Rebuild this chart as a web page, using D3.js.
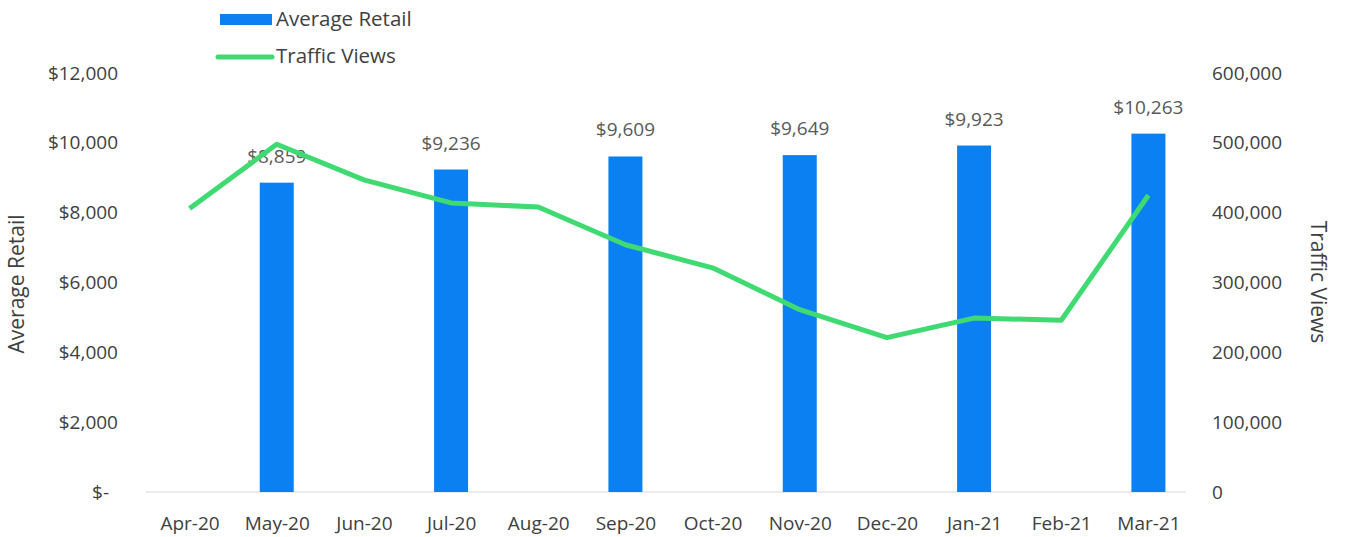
<!DOCTYPE html>
<html><head><meta charset="utf-8">
<script src="https://cdn.jsdelivr.net/npm/d3@7"></script>
<style>body{margin:0;background:#fff}svg{display:block}text{font-family:"Open Sans",Lato,sans-serif}</style>
</head><body>
<script>
const months = ["Apr-20","May-20","Jun-20","Jul-20","Aug-20","Sep-20","Oct-20","Nov-20","Dec-20","Jan-21","Feb-21","Mar-21"];
const retail = [null,8859,null,9236,null,9609,null,9649,null,9923,null,10263];
const traffic = [406000,498000,447000,414000,408000,354000,321000,261000,221000,249000,246000,425000];
const leftTicks = [0,2000,4000,6000,8000,10000,12000];
const rightTicks = [0,100000,200000,300000,400000,500000,600000];

const W=1345,H=537;
const svg=d3.select("body").append("svg").attr("width",W).attr("height",H);
const x0=146,x1=1192,yTop=73,yBot=492;
const x=d3.scaleBand().domain(months).range([x0,x1]).paddingInner(0.61).paddingOuter(0.305);
const xc=d3.scalePoint().domain(months).range([x0,x1]).padding(0.5);
const yL=d3.scaleLinear().domain([0,12000]).range([yBot,yTop]);
const yR=d3.scaleLinear().domain([0,600000]).range([yBot,yTop]);
const tc="#404040";
const fs="19px";

// x axis line
svg.append("line").attr("x1",x0).attr("x2",x1-6).attr("y1",yBot).attr("y2",yBot).attr("stroke","#d9d9d9").attr("stroke-width",1);

// left axis
const gl=svg.append("g").attr("transform",`translate(${118},0)`)
 .call(d3.axisLeft(yL).tickValues(leftTicks).tickSize(0).tickPadding(0)
 .tickFormat(d=>d===0?"$-":"$"+d3.format(",")(d)));
gl.select(".domain").remove();
gl.selectAll("text").attr("fill",tc).style("font-size",fs).attr("dx", d=>d===0?"-9":"0");

// right axis
const gr=svg.append("g").attr("transform",`translate(${1212},0)`)
 .call(d3.axisRight(yR).tickValues(rightTicks).tickSize(0).tickPadding(0).tickFormat(d3.format(",")));
gr.select(".domain").remove();
gr.selectAll("text").attr("fill",tc).style("font-size",fs);

// x axis labels
const gx=svg.append("g").attr("transform",`translate(0,${yBot})`)
 .call(d3.axisBottom(xc).tickSize(0).tickPadding(25));
gx.select(".domain").remove();
gx.selectAll("text").attr("fill",tc).style("font-size",fs);

// bars
const bd=months.map((m,i)=>({m,v:retail[i]})).filter(d=>d.v!=null);
svg.append("g").selectAll("rect").data(bd).join("rect")
 .attr("x",d=>x(d.m)).attr("width",x.bandwidth())
 .attr("y",d=>yL(d.v)).attr("height",d=>yBot-yL(d.v)).attr("fill","#0A80F2");

// bar labels
svg.append("g").selectAll("text").data(bd).join("text")
 .attr("x",d=>xc(d.m)).attr("y",d=>yL(d.v)-20).attr("text-anchor","middle")
 .attr("fill","#595959").style("font-size",fs).text(d=>"$"+d3.format(",")(d.v));

// line
const line=d3.line().x((d,i)=>xc(months[i])).y(d=>yR(d));
svg.append("path").datum(traffic).attr("d",line).attr("fill","none")
 .attr("stroke","#3FDB72").attr("stroke-width",5).attr("stroke-linejoin","round");

// axis titles
svg.append("text").attr("transform",`translate(24,284) rotate(-90)`).attr("text-anchor","middle")
 .attr("fill",tc).style("font-size","21px").text("Average Retail");
svg.append("text").attr("transform",`translate(1311,282) rotate(90)`).attr("text-anchor","middle")
 .attr("fill",tc).style("font-size","21px").text("Traffic Views");

// legend
const lg=svg.append("g");
lg.append("rect").attr("x",220).attr("y",14).attr("width",52).attr("height",11).attr("fill","#0A80F2");
lg.append("text").attr("x",276).attr("y",26).attr("fill",tc).style("font-size","20.5px").text("Average Retail");
lg.append("line").attr("x1",218).attr("x2",272).attr("y1",57).attr("y2",57).attr("stroke","#3FDB72").attr("stroke-width",5).attr("stroke-linecap","round");
lg.append("text").attr("x",276).attr("y",63).attr("fill",tc).style("font-size","20.5px").text("Traffic Views");
</script>
</body></html>
